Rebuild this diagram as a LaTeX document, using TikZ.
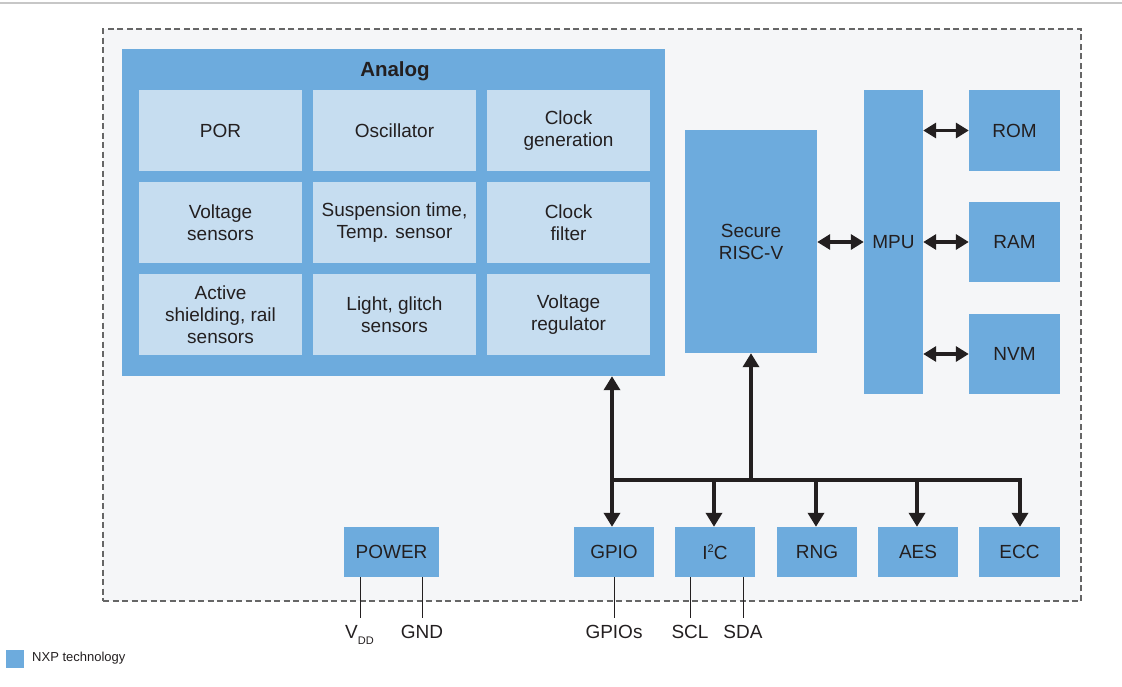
\documentclass[tikz,border=0pt]{standalone}
\usepackage{fontspec}
\setmainfont{Liberation Sans}
\usetikzlibrary{arrows.meta}
\definecolor{nxpblue}{HTML}{6DABDD}
\definecolor{celllight}{HTML}{C6DDF0}
\definecolor{bgfill}{HTML}{F5F6F8}
\definecolor{dashgray}{HTML}{666666}
\definecolor{txt}{HTML}{231F20}
\begin{document}
\begin{tikzpicture}[x=1pt,y=-1pt,
  every node/.style={text=txt},
  blk/.style={fill=nxpblue, draw=none, inner sep=0pt, align=center, font=\fontsize{19}{22}\selectfont},
  cell/.style={fill=celllight, draw=none, inner sep=0pt, minimum width=163pt, minimum height=81pt, align=center, font=\fontsize{19}{22}\selectfont},
  bus/.style={draw=txt, line width=3.5pt},
  tip/.style={-{Triangle[width=16pt,length=14pt]}},
  dbl/.style={draw=txt, line width=3.5pt, {Triangle[width=15pt,length=13pt]}-{Triangle[width=15pt,length=13pt]}},
  pin/.style={draw=txt, line width=0.9pt},
  lbl/.style={font=\fontsize{19}{22}\selectfont, inner sep=0pt}]
\useasboundingbox (0,0) rectangle (1122,686);
\draw[draw=black!22, line width=1.2pt] (0,3) -- (1122,3);
% outer dashed region
\node[draw=dashgray, dash pattern=on 6pt off 3.5pt, line width=1.3pt, fill=bgfill, minimum width=978pt, minimum height=572pt, inner sep=0pt] (chip) at (592,315) {};
% analog block
\node[blk, minimum width=543pt, minimum height=327pt] (analog) at (393.5,212.5) {};
\node[font=\bfseries\fontsize{20.5}{24}\selectfont, inner sep=0pt] (atitle) at (395,71) {Analog};
\node[cell] (por)  at (220.5,130.5) {POR};
\node[cell] (osc)  at (394.5,130.5) {Oscillator};
\node[cell] (clkg) at (568.5,130.5) {Clock\\generation};
\node[cell] (vsen) at (220.5,222.5) {Voltage\\sensors};
\node[cell] (susp) at (394.5,222.5) {Suspension time,\\Temp. sensor};
\node[cell] (clkf) at (568.5,222.5) {Clock\\filter};
\node[cell] (act)  at (220.5,314.5) {Active\\shielding, rail\\sensors};
\node[cell] (lgl)  at (394.5,314.5) {Light, glitch\\sensors};
\node[cell] (vreg) at (568.5,314.5) {Voltage\\regulator};
% cpu and memory
\node[blk, minimum width=132pt, minimum height=223pt] (risc) at (751,241.5) {Secure\\RISC-V};
\node[blk, minimum width=59pt, minimum height=304pt] (mpu) at (893.5,242) {MPU};
\node[blk, minimum width=91pt, minimum height=81pt] (rom) at (1014.5,130.5) {ROM};
\node[blk, minimum width=91pt, minimum height=80pt] (ram) at (1014.5,242) {RAM};
\node[blk, minimum width=91pt, minimum height=80pt] (nvm) at (1014.5,354) {NVM};
\draw[dbl] (risc.east |- mpu) -- (mpu.west);
\draw[dbl] (mpu.east |- rom) -- (rom.west);
\draw[dbl] (mpu.east |- ram) -- (ram.west);
\draw[dbl] (mpu.east |- nvm) -- (nvm.west);
% peripherals
\node[blk, minimum width=95pt, minimum height=50pt] (power) at (391.5,552) {POWER};
\node[blk, minimum width=80pt, minimum height=50pt] (gpio) at (614,552) {GPIO};
\node[blk, minimum width=80pt, minimum height=50pt] (i2c) at (715,552) {I\raisebox{7pt}{\fontsize{11}{11}\selectfont 2}C};
\node[blk, minimum width=80pt, minimum height=50pt] (rng) at (817,552) {RNG};
\node[blk, minimum width=80pt, minimum height=50pt] (aes) at (918,552) {AES};
\node[blk, minimum width=81pt, minimum height=50pt] (ecc) at (1019.5,552) {ECC};
% bus
\coordinate (j1) at (612,480);
\coordinate (j2) at (1020,480);
\draw[bus, line cap=rect] (j1) -- (j2);
\draw[bus, tip] (j1) -- (j1 |- analog.south);
\draw[bus, tip] (j1) -- (j1 |- gpio.north);
\draw[bus, tip] (risc.south |- j1) -- (risc.south);
\draw[bus, tip] (i2c.north -| 714,0) ++(0,-47) -- (i2c.north -| 714,0);
\draw[bus, tip] (rng.north -| 816,0) ++(0,-47) -- (rng.north -| 816,0);
\draw[bus, tip] (aes.north -| 917,0) ++(0,-47) -- (aes.north -| 917,0);
\draw[bus, tip] (j2) -- (j2 |- ecc.north);
% pins
\coordinate (pv) at (360,618);
\coordinate (pg) at (422,618);
\coordinate (pgp) at (614,618);
\coordinate (pscl) at (690,618);
\coordinate (psda) at (743,618);
\draw[pin] (power.south -| pv) -- (pv);
\draw[pin] (power.south -| pg) -- (pg);
\draw[pin] (gpio.south -| pgp) -- (pgp);
\draw[pin] (i2c.south -| pscl) -- (pscl);
\draw[pin] (i2c.south -| psda) -- (psda);
\node[lbl, anchor=base west] (vdd) at (345,638) {V\raisebox{-6pt}{\fontsize{11}{11}\selectfont DD}};
\node[lbl, anchor=base] (gnd) at (422,638) {GND};
\node[lbl, anchor=base] (gpios) at (614,638) {GPIOs};
\node[lbl, anchor=base] (scl) at (690,638) {SCL};
\node[lbl, anchor=base] (sda) at (743,638) {SDA};
% legend
\node[fill=nxpblue, minimum width=18pt, minimum height=18pt, inner sep=0pt] (legbox) at (15,659) {};
\node[anchor=west, font=\fontsize{13}{15}\selectfont, inner sep=0pt] (legtxt) at (32,658) {NXP technology};
\end{tikzpicture}
\end{document}
